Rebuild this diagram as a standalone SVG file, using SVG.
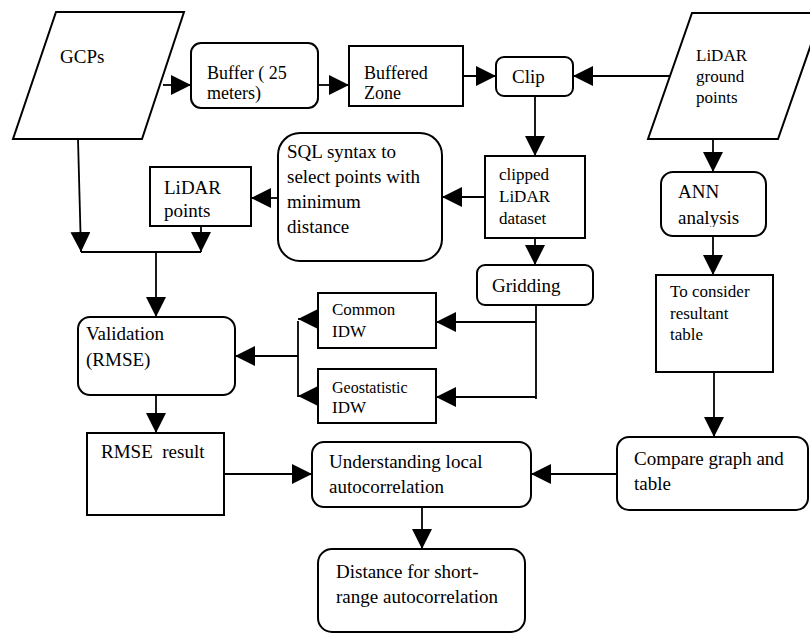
<svg xmlns="http://www.w3.org/2000/svg" width="810" height="635" viewBox="0 0 810 635">
<style>
  .shape { fill: #ffffff; stroke: #000000; stroke-width: 2; }
  .t { font-family: "Liberation Serif", "Times New Roman", serif; font-size: 19px; fill: #000000; }
  .m { font-size: 18px; }
  .s { font-size: 17px; }
  .xs { font-size: 16px; }
  .conn path { fill: none; stroke: #000000; stroke-width: 1.8; }
</style>
<defs>
  <marker id="arr" markerUnits="userSpaceOnUse" markerWidth="20" markerHeight="20" refX="20" refY="10" orient="auto">
    <path d="M0,0 L20,10 L0,20 Z" fill="#000000"/>
  </marker>
  <clipPath id="annclip"><rect x="661" y="172" width="105" height="55"/></clipPath>
</defs>
<rect width="810" height="635" fill="#ffffff"/>

<g id="gcps">
  <polygon class="shape" points="56,12 184,12 142,139 13,139"/>
  <text class="t" x="60" y="63">GCPs</text>
</g>
<g id="buffer">
  <rect class="shape" x="191" y="43" width="127" height="65" rx="10"/>
  <text class="t m" x="207" y="79">Buffer ( 25</text>
  <text class="t m" x="207" y="99">meters)</text>
</g>
<g id="buffered-zone">
  <rect class="shape" x="349" y="46" width="114" height="60"/>
  <text class="t m" x="364" y="79">Buffered</text>
  <text class="t m" x="364" y="99">Zone</text>
</g>
<g id="clip">
  <rect class="shape" x="496" y="57" width="77" height="39" rx="8"/>
  <text class="t" x="512" y="83">Clip</text>
</g>
<g id="lidar-ground">
  <polygon class="shape" points="692,13 822,13 778,139 648,139"/>
  <text class="t s" x="696" y="61">LiDAR</text>
  <text class="t s" x="696" y="82">ground</text>
  <text class="t s" x="696" y="103">points</text>
</g>
<g id="clipped">
  <rect class="shape" x="485" y="156" width="100" height="82"/>
  <text class="t s" x="499" y="180">clipped</text>
  <text class="t s" x="499" y="202">LiDAR</text>
  <text class="t s" x="499" y="224">dataset</text>
</g>
<g id="sql">
  <rect class="shape" x="278" y="133" width="164" height="128" rx="22"/>
  <text class="t" x="287" y="158">SQL syntax to</text>
  <text class="t" x="287" y="183">select points with</text>
  <text class="t" x="287" y="208">minimum</text>
  <text class="t" x="287" y="233">distance</text>
</g>
<g id="lidar-points">
  <rect class="shape" x="150" y="167" width="101" height="59"/>
  <text class="t" x="164" y="194">LiDAR</text>
  <text class="t" x="164" y="217">points</text>
</g>
<g id="gridding">
  <rect class="shape" x="477" y="265" width="116" height="40" rx="8"/>
  <text class="t" x="492" y="292">Gridding</text>
</g>
<g id="validation">
  <rect class="shape" x="78" y="317" width="157" height="78" rx="12"/>
  <text class="t" x="86" y="340">Validation</text>
  <text class="t" x="86" y="366">(RMSE)</text>
</g>
<g id="common-idw">
  <rect class="shape" x="318" y="293" width="118" height="55"/>
  <text class="t s" x="332" y="315">Common</text>
  <text class="t s" x="332" y="337">IDW</text>
</g>
<g id="geostatistic-idw">
  <rect class="shape" x="318" y="369" width="118" height="54"/>
  <text class="t xs" x="332" y="393">Geostatistic</text>
  <text class="t s" x="332" y="413">IDW</text>
</g>
<g id="ann">
  <rect class="shape" x="661" y="172" width="105" height="64" rx="12"/>
  <text class="t" x="678" y="198">ANN</text>
  <text class="t" x="678" y="224" clip-path="url(#annclip)">analysis</text>
</g>
<g id="to-consider">
  <rect class="shape" x="656" y="275" width="117" height="97"/>
  <text class="t s" x="670" y="297">To consider</text>
  <text class="t s" x="670" y="319">resultant</text>
  <text class="t s" x="670" y="340">table</text>
</g>
<g id="compare">
  <rect class="shape" x="617" y="437" width="191" height="73" rx="12"/>
  <text class="t" x="634" y="465">Compare graph and</text>
  <text class="t" x="634" y="490">table</text>
</g>
<g id="understanding">
  <rect class="shape" x="312" y="442" width="219" height="65" rx="12"/>
  <text class="t" x="329" y="468">Understanding local</text>
  <text class="t" x="329" y="493">autocorrelation</text>
</g>
<g id="rmse-result">
  <rect class="shape" x="87" y="433" width="137" height="82"/>
  <text class="t" x="101" y="458" xml:space="preserve">RMSE  result</text>
</g>
<g id="distance">
  <rect class="shape" x="318" y="549" width="207" height="83" rx="14"/>
  <text class="t" x="336" y="578">Distance for short-</text>
  <text class="t" x="336" y="603">range autocorrelation</text>
</g>

<g id="connectors" class="conn">
  <path d="M163,85 L191,85" marker-end="url(#arr)"/>
  <path d="M318,85 L349,85" marker-end="url(#arr)"/>
  <path d="M463,76 L496,76" marker-end="url(#arr)"/>
  <path d="M670,76 L573,76" marker-end="url(#arr)"/>
  <path d="M535,96 L535,156" marker-end="url(#arr)"/>
  <path d="M485,197 L442,197" marker-end="url(#arr)"/>
  <path d="M278,198 L251,198" marker-end="url(#arr)"/>
  <path d="M78,139 L81,252" marker-end="url(#arr)"/>
  <path d="M201,226 L201,252" marker-end="url(#arr)"/>
  <path d="M81,252 L201,252"/>
  <path d="M156,252 L156,317" marker-end="url(#arr)"/>
  <path d="M298,321 L298,397"/>
  <path d="M298,356 L235,356" marker-end="url(#arr)"/>
  <path d="M318,319 L298,319" marker-end="url(#arr)"/>
  <path d="M318,396 L298,396" marker-end="url(#arr)"/>
  <path d="M535,238 L535,265" marker-end="url(#arr)"/>
  <path d="M536,305 L536,399"/>
  <path d="M536,322 L436,322" marker-end="url(#arr)"/>
  <path d="M536,397 L436,397" marker-end="url(#arr)"/>
  <path d="M713,139 L713,172" marker-end="url(#arr)"/>
  <path d="M713,236 L713,275" marker-end="url(#arr)"/>
  <path d="M714,372 L714,437" marker-end="url(#arr)"/>
  <path d="M617,474 L531,474" marker-end="url(#arr)"/>
  <path d="M156,395 L156,433" marker-end="url(#arr)"/>
  <path d="M224,474 L312,474" marker-end="url(#arr)"/>
  <path d="M422,507 L422,549" marker-end="url(#arr)"/>
</g>
</svg>
